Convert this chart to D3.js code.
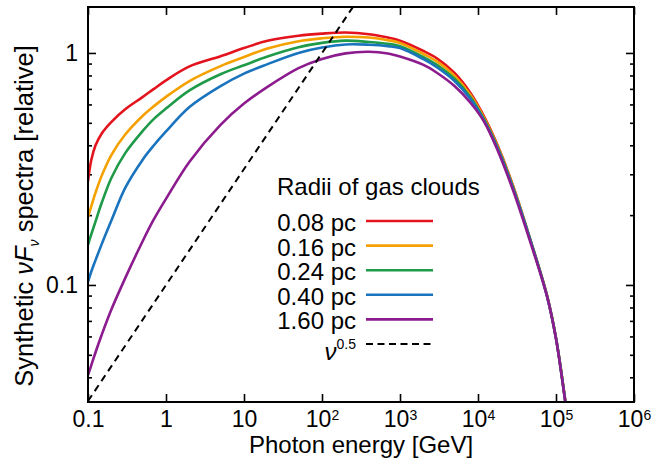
<!DOCTYPE html>
<html>
<head>
<meta charset="utf-8">
<script src="https://cdn.jsdelivr.net/npm/d3@7"></script>
<style>
  body { margin: 0; background: #fff; }
  svg { display: block; font-family: "Liberation Sans", Arial, Helvetica, sans-serif; }
</style>
</head>
<body>
<div id="chart"></div>
<script>
// photon energy grid [GeV]
const energy = [0.1, 0.11, 0.125, 0.15, 0.2, 0.3, 0.5, 0.7, 1, 2, 5, 10, 20, 50, 100, 200, 400, 700,
  1000, 2000, 3000, 5000, 8000, 12000, 18000, 28000, 46000, 77000, 1e5, 1.3e5, 1.4e5];

// relative nuFnu for each cloud radius
const r008 = [0.28, 0.345, 0.40, 0.45, 0.505, 0.572, 0.645, 0.70, 0.762, 0.875, 0.968, 1.05, 1.128, 1.187, 1.212, 1.225, 1.205, 1.165,
  1.13, 1.02, 0.946, 0.820, 0.673, 0.532, 0.397, 0.269, 0.160, 0.0898, 0.0591, 0.0327, 0.0272];
const r016 = [0.196, 0.218, 0.25, 0.296, 0.364, 0.445, 0.535, 0.59, 0.647, 0.757, 0.878, 0.96, 1.045, 1.124, 1.157, 1.175, 1.165, 1.135,
  1.105, 0.99, 0.917, 0.797, 0.659, 0.524, 0.393, 0.267, 0.1597, 0.0895, 0.059, 0.0326, 0.0271];
const r024 = [0.149, 0.165, 0.188, 0.226, 0.29, 0.37, 0.46, 0.52, 0.576, 0.69, 0.81, 0.885, 0.965, 1.058, 1.105, 1.13, 1.115, 1.095,
  1.07, 0.96, 0.887, 0.774, 0.645, 0.516, 0.388, 0.264, 0.1593, 0.0893, 0.0589, 0.0325, 0.027];
const r040 = [0.103, 0.114, 0.128, 0.150, 0.190, 0.262, 0.346, 0.40, 0.459, 0.585, 0.72, 0.815, 0.895, 1.0, 1.055, 1.088, 1.085, 1.07,
  1.05, 0.94, 0.866, 0.757, 0.634, 0.510, 0.384, 0.262, 0.159, 0.089, 0.0588, 0.0324, 0.027];
const r160 = [0.0409, 0.045, 0.0513, 0.061, 0.0785, 0.107, 0.154, 0.192, 0.235, 0.34, 0.49, 0.605, 0.714, 0.86, 0.942, 0.996, 1.012, 0.995,
  0.965, 0.888, 0.82, 0.72, 0.61, 0.505, 0.378, 0.257, 0.156, 0.0888, 0.0586, 0.0322, 0.0268];

// nu^0.5 reference line (two ends)
const refEnergy = [0.1, 250];
const refValue = [0.0316, 1.58];

const seriesNames = ["0.08 pc", "0.16 pc", "0.24 pc", "0.40 pc", "1.60 pc"];
const seriesValues = [r008, r016, r024, r040, r160];
const seriesColors = ["#e3141e", "#f4a100", "#1e9a48", "#1a74bd", "#8c1b8e"];

const xTicks = [0.1, 1, 10, 100, 1e3, 1e4, 1e5, 1e6];
const xTickLabels = ["0.1", "1", "10", "10^2", "10^3", "10^4", "10^5", "10^6"];
const yTicks = [0.1, 1];
const yTickLabels = ["0.1", "1"];
const yMinorTicks = [0.04, 0.05, 0.06, 0.07, 0.08, 0.09, 0.2, 0.3, 0.4, 0.5, 0.6, 0.7, 0.8, 0.9];

const W = 668, H = 462;
const pLeft = 88, pRight = 634, pTop = 7, pBottom = 402;

const svg = d3.select("#chart").append("svg")
  .attr("width", W)
  .attr("height", H);

const x = d3.scaleLog().domain([0.1, 1e6]).range([pLeft, pRight]);
const y = d3.scaleLog().domain([0.0313, 1.578]).range([pBottom, pTop]);

svg.append("defs").append("clipPath").attr("id", "plotclip")
  .append("rect")
  .attr("x", pLeft).attr("y", pTop)
  .attr("width", pRight - pLeft).attr("height", pBottom - pTop);

// puts "10^n" into 10 with a raised exponent
function writeLabel(sel, label, supSize) {
  sel.text(null);
  const parts = label.split("^");
  sel.append("tspan").text(parts[0]);
  if (parts.length > 1) {
    sel.append("tspan").attr("font-size", supSize).attr("dy", "-0.55em").text(parts[1]);
  }
}

// axes, ticks pointing in
const xAxisB = svg.append("g")
  .attr("transform", "translate(0," + pBottom + ")")
  .call(d3.axisBottom(x).tickValues(xTicks).tickSizeInner(-8).tickSizeOuter(0).tickPadding(9)
    .tickFormat((d, i) => xTickLabels[i]));
xAxisB.selectAll("text").attr("font-size", 23).attr("fill", "#000")
  .each(function(d, i) { writeLabel(d3.select(this), xTickLabels[i], 14); });

svg.append("g")
  .attr("transform", "translate(0," + pTop + ")")
  .call(d3.axisTop(x).tickValues(xTicks).tickSizeInner(-8).tickSizeOuter(0).tickFormat(""));

const yAxisL = svg.append("g")
  .attr("transform", "translate(" + pLeft + ",0)")
  .call(d3.axisLeft(y).tickValues(yTicks).tickSizeInner(-8).tickSizeOuter(0).tickPadding(10)
    .tickFormat((d, i) => yTickLabels[i]));
yAxisL.selectAll("text").attr("font-size", 23).attr("fill", "#000");

svg.append("g")
  .attr("transform", "translate(" + pLeft + ",0)")
  .call(d3.axisLeft(y).tickValues(yMinorTicks).tickSizeInner(-4).tickSizeOuter(0).tickFormat(""));
svg.append("g")
  .attr("transform", "translate(" + pRight + ",0)")
  .call(d3.axisRight(y).tickValues(yTicks).tickSizeInner(-8).tickSizeOuter(0).tickFormat(""));
svg.append("g")
  .attr("transform", "translate(" + pRight + ",0)")
  .call(d3.axisRight(y).tickValues(yMinorTicks).tickSizeInner(-4).tickSizeOuter(0).tickFormat(""));

svg.selectAll(".domain").remove();
svg.selectAll(".tick line").attr("stroke", "#000").attr("stroke-width", 1.6);

// curves
const line = d3.line()
  .x(d => x(d[0]))
  .y(d => y(d[1]))
  .curve(d3.curveCatmullRom.alpha(0.5));

const plot = svg.append("g").attr("clip-path", "url(#plotclip)");

seriesValues.forEach((vals, k) => {
  plot.append("path")
    .datum(energy.map((e, i) => [e, vals[i]]))
    .attr("fill", "none")
    .attr("stroke", seriesColors[k])
    .attr("stroke-width", 2.6)
    .attr("stroke-linejoin", "round")
    .attr("d", line);
});

plot.append("path")
  .datum(refEnergy.map((e, i) => [e, refValue[i]]))
  .attr("fill", "none")
  .attr("stroke", "#000")
  .attr("stroke-width", 2)
  .attr("stroke-dasharray", "7,5")
  .attr("d", d3.line().x(d => x(d[0])).y(d => y(d[1])));

// frame
svg.append("rect")
  .attr("x", pLeft).attr("y", pTop)
  .attr("width", pRight - pLeft).attr("height", pBottom - pTop)
  .attr("fill", "none").attr("stroke", "#000").attr("stroke-width", 2);

// axis titles
svg.append("text")
  .attr("x", (pLeft + pRight) / 2).attr("y", 453)
  .attr("text-anchor", "middle").attr("font-size", 24)
  .text("Photon energy [GeV]");

const yt = svg.append("text")
  .attr("transform", "translate(33,216) rotate(-90)")
  .attr("text-anchor", "middle").attr("font-size", 25.5);
yt.append("tspan").text("Synthetic ");
yt.append("tspan").attr("font-style", "italic").text("\u03bdF");
yt.append("tspan").attr("font-style", "italic").attr("font-size", 14).attr("dy", 6).text("\u03bd");
yt.append("tspan").attr("dy", -6).text(" spectra [relative]");

// legend
const legX = 356, legLine0 = 366, legLine1 = 433, legY0 = 221, legStep = 24.6;
svg.append("text")
  .attr("x", 277).attr("y", 195)
  .attr("font-size", 24)
  .text("Radii of gas clouds");

seriesNames.forEach((name, k) => {
  const yy = legY0 + k * legStep;
  svg.append("text")
    .attr("x", legX).attr("y", yy + 10)
    .attr("text-anchor", "end").attr("font-size", 24)
    .text(name);
  svg.append("line")
    .attr("x1", legLine0).attr("x2", legLine1)
    .attr("y1", yy).attr("y2", yy)
    .attr("stroke", seriesColors[k]).attr("stroke-width", 2.6);
});

const refY = legY0 + 5 * legStep;
const rl = svg.append("text")
  .attr("x", legX).attr("y", refY + 16)
  .attr("text-anchor", "end").attr("font-size", 24);
rl.append("tspan").attr("font-style", "italic").text("\u03bd");
rl.append("tspan").attr("font-size", 14).attr("dy", -11).text("0.5");
svg.append("line")
  .attr("x1", legLine0).attr("x2", legLine1)
  .attr("y1", refY).attr("y2", refY)
  .attr("stroke", "#000").attr("stroke-width", 2).attr("stroke-dasharray", "7,4.5");
</script>
</body>
</html>
